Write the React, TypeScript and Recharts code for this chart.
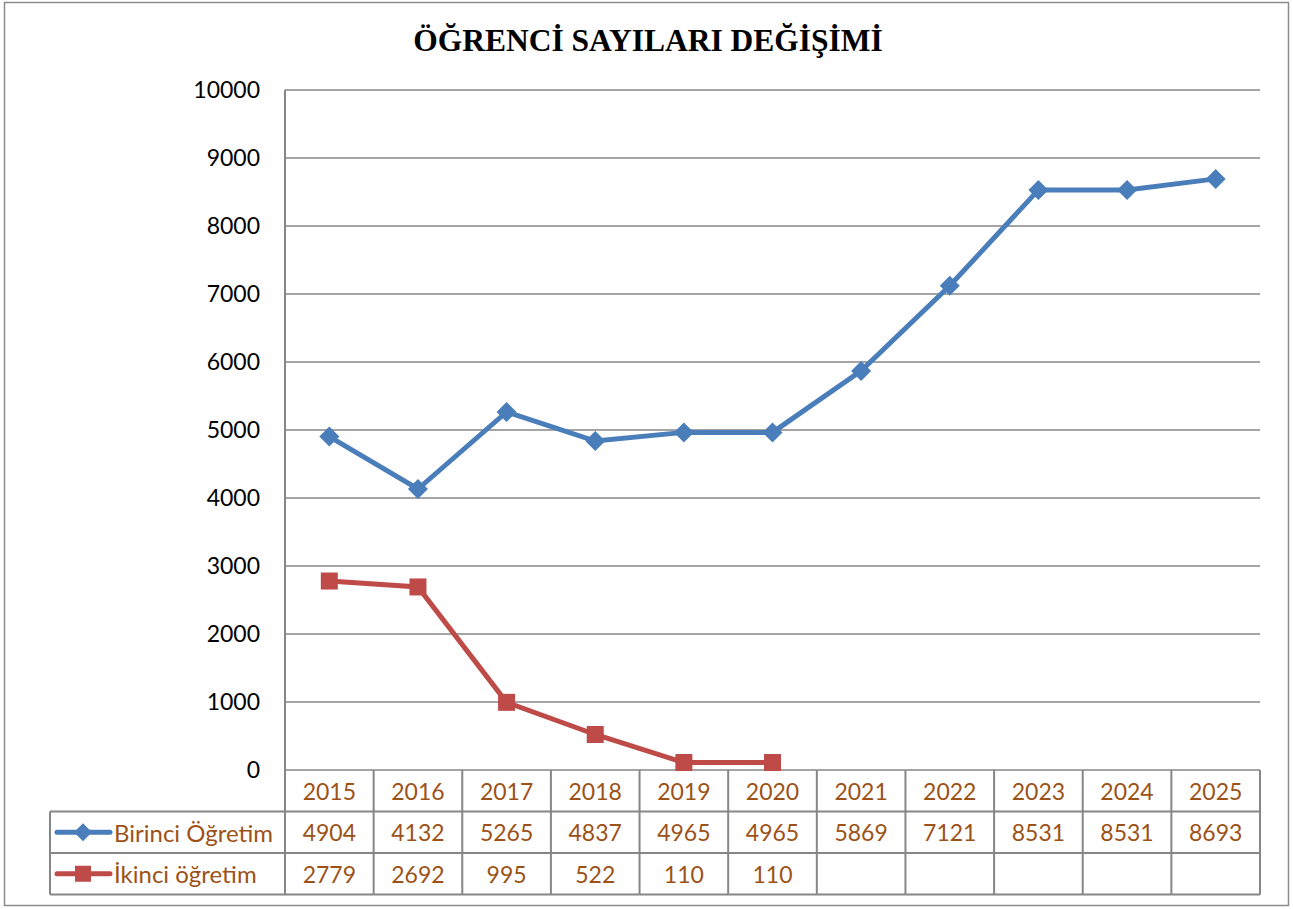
import React from 'react';
import { LineChart, Line, XAxis, YAxis, CartesianGrid } from 'recharts';

// ── Data ────────────────────────────────────────────────────────────────────
const YEARS = ['2015', '2016', '2017', '2018', '2019', '2020', '2021', '2022', '2023', '2024', '2025'];
const BIRINCI = [4904, 4132, 5265, 4837, 4965, 4965, 5869, 7121, 8531, 8531, 8693];
const IKINCI: (number | null)[] = [2779, 2692, 995, 522, 110, 110, null, null, null, null, null];
const Y_TICKS = [0, 1000, 2000, 3000, 4000, 5000, 6000, 7000, 8000, 9000, 10000];

const SERIES_NAMES = ['Birinci Öğretim', 'İkinci öğretim'];

const DATA = YEARS.map((year, i) => ({ year, birinci: BIRINCI[i], ikinci: IKINCI[i] }));

// ── Layout ──────────────────────────────────────────────────────────────────
const W = 1293;
const H = 909;
const PLOT_LEFT = 285;
const PLOT_RIGHT = 1260;
const PLOT_TOP = 90;
const PLOT_BOTTOM = 770;
const BAND = (PLOT_RIGHT - PLOT_LEFT) / YEARS.length;
const ROW_H = 41.5;
const LEGEND_LEFT = 50;

const BLUE = '#4a7ebb';
const RED = '#be4b48';
const GRID = '#868686';
const BROWN = '#9c5217';
const FONT = 'Lato, "Open Sans", sans-serif';

const Diamond = ({ cx, cy, r = 10 }: any) => {
    if (cx == null || cy == null) return null;
    return <polygon points={`${cx},${cy - r} ${cx + r},${cy} ${cx},${cy + r} ${cx - r},${cy}`} fill={BLUE} />;
};

const Square = ({ cx, cy, s = 17 }: any) => {
    if (cx == null || cy == null) return null;
    return <rect x={cx - s / 2} y={cy - s / 2} width={s} height={s} fill={RED} />;
};

// data table drawn under the x axis, one column per category
const TableTick = ({ x, payload }: any) => {
    const i = payload.index;
    const left = x - BAND / 2;
    const right = x + BAND / 2;
    const rows = [PLOT_BOTTOM, PLOT_BOTTOM + ROW_H, PLOT_BOTTOM + 2 * ROW_H, PLOT_BOTTOM + 3 * ROW_H];
    const textStyle = { fontFamily: FONT, fontSize: 23, fill: BROWN };
    const legendStyle = { ...textStyle, fontSize: 24 };
    const b = BIRINCI[i];
    const k = IKINCI[i];
    return (
        <g>
            <line x1={left} x2={left} y1={rows[0]} y2={rows[3]} stroke={GRID} strokeWidth={2} />
            {i === YEARS.length - 1 && (
                <line x1={right} x2={right} y1={rows[0]} y2={rows[3]} stroke={GRID} strokeWidth={2} />
            )}
            {rows.slice(1).map((ry) => (
                <line key={ry} x1={left} x2={right} y1={ry} y2={ry} stroke={GRID} strokeWidth={2} />
            ))}
            <text x={x} y={rows[0] + ROW_H / 2} textAnchor="middle" dominantBaseline="central" style={textStyle}>
                {payload.value}
            </text>
            <text x={x} y={rows[1] + ROW_H / 2} textAnchor="middle" dominantBaseline="central" style={textStyle}>
                {b}
            </text>
            {k != null && (
                <text x={x} y={rows[2] + ROW_H / 2} textAnchor="middle" dominantBaseline="central" style={textStyle}>
                    {k}
                </text>
            )}
            {i === 0 && (
                <g>
                    <line x1={LEGEND_LEFT} x2={left} y1={rows[1]} y2={rows[1]} stroke={GRID} strokeWidth={2} />
                    <line x1={LEGEND_LEFT} x2={left} y1={rows[2]} y2={rows[2]} stroke={GRID} strokeWidth={2} />
                    <line x1={LEGEND_LEFT} x2={left} y1={rows[3]} y2={rows[3]} stroke={GRID} strokeWidth={2} />
                    <line x1={LEGEND_LEFT} x2={LEGEND_LEFT} y1={rows[1]} y2={rows[3]} stroke={GRID} strokeWidth={2} />
                    {/* legend keys */}
                    <line x1={57} x2={110} y1={rows[1] + ROW_H / 2} y2={rows[1] + ROW_H / 2} stroke={BLUE} strokeWidth={5} strokeLinecap="round" />
                    <Diamond cx={83} cy={rows[1] + ROW_H / 2} r={9} />
                    <line x1={57} x2={110} y1={rows[2] + ROW_H / 2} y2={rows[2] + ROW_H / 2} stroke={RED} strokeWidth={5} strokeLinecap="round" />
                    <Square cx={83} cy={rows[2] + ROW_H / 2} s={16} />
                    <text x={114} y={rows[1] + ROW_H / 2} dominantBaseline="central" style={legendStyle}>{SERIES_NAMES[0]}</text>
                    <text x={114} y={rows[2] + ROW_H / 2} dominantBaseline="central" style={legendStyle}>{SERIES_NAMES[1]}</text>
                </g>
            )}
        </g>
    );
};

export default function App() {
    return (
        <div style={{ position: 'absolute', left: 0, top: 0, width: W, height: H, background: '#fff' }}>
            <svg width={W} height={H} style={{ position: 'absolute', left: 0, top: 0 }}>
                <rect x={4.5} y={2.5} width={1284} height={903} fill="#fff" stroke="#8c8c8c" strokeWidth={1.5} />
                <text
                    x={648}
                    y={51}
                    textAnchor="middle"
                    style={{ fontFamily: '"Liberation Serif", "Times New Roman", serif', fontWeight: 700, fontSize: 31.5 }}
                >
                    ÖĞRENCİ SAYILARI DEĞİŞİMİ
                </text>
            </svg>
            <div style={{ position: 'absolute', left: 0, top: 0 }}>
                <LineChart
                    width={W}
                    height={H}
                    data={DATA}
                    margin={{ top: PLOT_TOP, right: W - PLOT_RIGHT, bottom: 14, left: PLOT_LEFT - 100 }}
                >
                    <CartesianGrid vertical={false} stroke={GRID} strokeWidth={1.5} />
                    <XAxis
                        dataKey="year"
                        height={H - PLOT_BOTTOM - 14}
                        axisLine={false}
                        tickLine={false}
                        interval={0}
                        padding={{ left: BAND / 2, right: BAND / 2 }}
                        tick={<TableTick />}
                    />
                    <YAxis
                        width={100}
                        domain={[0, 10000]}
                        ticks={Y_TICKS}
                        interval={0}
                        axisLine={{ stroke: GRID, strokeWidth: 2 }}
                        tickLine={false}
                        tickMargin={19}
                        tick={{ fontFamily: FONT, fontSize: 23, fill: '#000' }}
                    />
                    <Line
                        dataKey="birinci"
                        stroke={BLUE}
                        strokeWidth={5}
                        dot={<Diamond r={10} />}
                        activeDot={false}
                        isAnimationActive={false}
                    />
                    <Line
                        dataKey="ikinci"
                        stroke={RED}
                        strokeWidth={5}
                        dot={<Square s={17} />}
                        activeDot={false}
                        connectNulls={false}
                        isAnimationActive={false}
                    />
                </LineChart>
            </div>
        </div>
    );
}
